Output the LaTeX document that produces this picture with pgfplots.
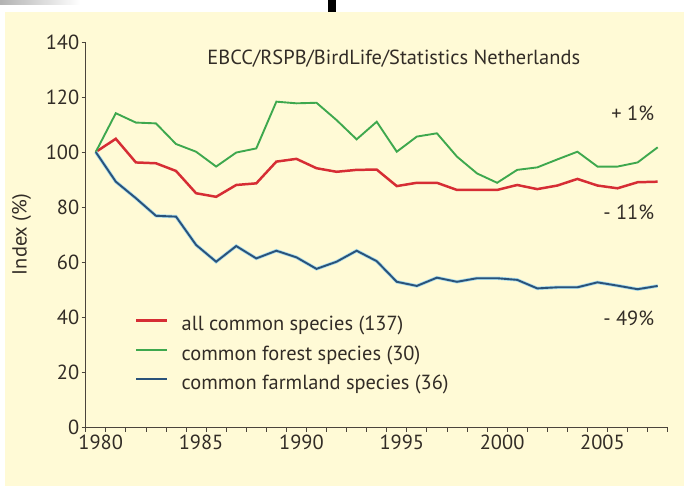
\documentclass[border=0pt]{standalone}
\usepackage{pgfplots}
\pgfplotsset{compat=1.18}
\usepackage{fontspec}
\setmainfont{PT Sans}

\definecolor{bgcream}{RGB}{255,250,214}
\definecolor{txt}{RGB}{50,44,38}
\definecolor{axisgray}{RGB}{75,68,60}
\definecolor{allred}{RGB}{214,45,52}
\definecolor{forestgreen}{RGB}{62,168,78}
\definecolor{farmblue}{RGB}{42,82,122}
\definecolor{farmhalo}{RGB}{165,218,236}

\newcommand{\chartfont}{\fontsize{20.5}{23}\selectfont}

\begin{document}
\begin{tikzpicture}[x=1bp,y=1bp]
% page frame and cream panel
\fill[white] (0,0) rectangle (687,486);
\fill[bgcream] (5,0) rectangle (684,474);
\shade[left color=gray!60, right color=white] (0,481) rectangle (80,486);
\fill[black] (328,474) rectangle (336,486);

\begin{axis}[
    at={(85.7bp,59bp)}, anchor=south west,
    scale only axis,
    width=582bp, height=385bp,
    xmin=1979.5, xmax=2008.5,
    ymin=0, ymax=140,
    axis lines*=left,
    axis line style={axisgray, line width=0.9pt},
    every tick/.style={axisgray, line width=0.8pt},
    xtick={1980,1985,...,2005},
    xticklabels={1980,1985,1990,1995,2000,2005},
    major x tick style={draw=none},
    minor xtick={1979.5,1980.5,...,2008.5},
    minor tick length=5bp,
    ytick={0,20,...,140},
    major tick length=4bp,
    tick align=outside,
    xtick pos=bottom, ytick pos=left,
    /pgf/number format/assume math mode=true,
    /pgf/number format/1000 sep={},
    tick label style={font=\chartfont, text=txt},
    xticklabel style={xshift=5bp, yshift=0bp},
    yticklabel style={xshift=1bp},
    ylabel={Index (\%)},
    ylabel style={font=\chartfont, text=txt,
        at={(axis description cs:-0.110,0.5)}, anchor=center},
    legend style={draw=none, fill=none,
        at={(axis description cs:0.0796,0.292)}, anchor=north west,
        font=\chartfont, text=txt,
        nodes={inner sep=0pt, text height=14bp, text depth=5bp},
        row sep=10.5bp,
        /tikz/every odd column/.append style={column sep=13bp}},
    legend cell align=left,
    legend image code/.code={\draw[#1] (0bp,6bp) -- (31bp,6bp);},
]

\addplot[allred, line width=2.5pt] coordinates {
    (1980,100) (1981,104.8) (1982,96.2) (1983,95.9) (1984,93.1)
    (1985,85.0) (1986,83.7) (1987,88.0) (1988,88.6) (1989,96.5)
    (1990,97.5) (1991,94.1) (1992,92.8) (1993,93.5) (1994,93.6)
    (1995,87.6) (1996,88.8) (1997,88.8) (1998,86.2) (1999,86.2)
    (2000,86.2) (2001,88.0) (2002,86.5) (2003,87.8) (2004,90.2)
    (2005,87.8) (2006,86.8) (2007,89.0) (2008,89.2)
};
\addlegendentry{all common species (137)}

\addplot[forestgreen, line width=1.9pt] coordinates {
    (1980,100) (1981,114.1) (1982,110.7) (1983,110.4) (1984,102.9)
    (1985,100.1) (1986,94.7) (1987,99.8) (1988,101.3) (1989,118.3)
    (1990,117.7) (1991,117.9) (1992,111.6) (1993,104.6) (1994,111.0)
    (1995,100.1) (1996,105.6) (1997,106.8) (1998,98.3) (1999,92.2)
    (2000,88.8) (2001,93.5) (2002,94.4) (2003,97.3) (2004,100.1)
    (2005,94.7) (2006,94.7) (2007,96.2) (2008,101.7)
};
\addlegendentry{common forest species (30)}

\addplot[farmhalo, line width=3.4pt, forget plot] coordinates {
    (1980,100) (1981,89.2) (1982,83.2) (1983,76.8) (1984,76.5)
    (1985,66.2) (1986,60.1) (1987,65.8) (1988,61.3) (1989,64.1)
    (1990,61.7) (1991,57.5) (1992,60.1) (1993,64.1) (1994,60.3)
    (1995,52.8) (1996,51.3) (1997,54.3) (1998,52.8) (1999,54.1)
    (2000,54.1) (2001,53.5) (2002,50.4) (2003,50.8) (2004,50.8)
    (2005,52.6) (2006,51.4) (2007,50.1) (2008,51.3)
};
\addplot[farmblue, line width=1.9pt] coordinates {
    (1980,100) (1981,89.2) (1982,83.2) (1983,76.8) (1984,76.5)
    (1985,66.2) (1986,60.1) (1987,65.8) (1988,61.3) (1989,64.1)
    (1990,61.7) (1991,57.5) (1992,60.1) (1993,64.1) (1994,60.3)
    (1995,52.8) (1996,51.3) (1997,54.3) (1998,52.8) (1999,54.1)
    (2000,54.1) (2001,53.5) (2002,50.4) (2003,50.8) (2004,50.8)
    (2005,52.6) (2006,51.4) (2007,50.1) (2008,51.3)
};
\addlegendentry{common farmland species (36)}

\node[text=txt, font=\chartfont, anchor=center]
    at (axis cs:1994.85,133.8) {EBCC/RSPB/BirdLife/Statistics Netherlands};
\node[text=txt, font=\chartfont, anchor=east]
    at (axis cs:2008.0,114.2) {+ 1\%};
\node[text=txt, font=\chartfont, anchor=east]
    at (axis cs:2008.0,78.2) {- 11\%};
\node[text=txt, font=\chartfont, anchor=east]
    at (axis cs:2008.0,39.6) {- 49\%};
\end{axis}
\end{tikzpicture}
\end{document}
